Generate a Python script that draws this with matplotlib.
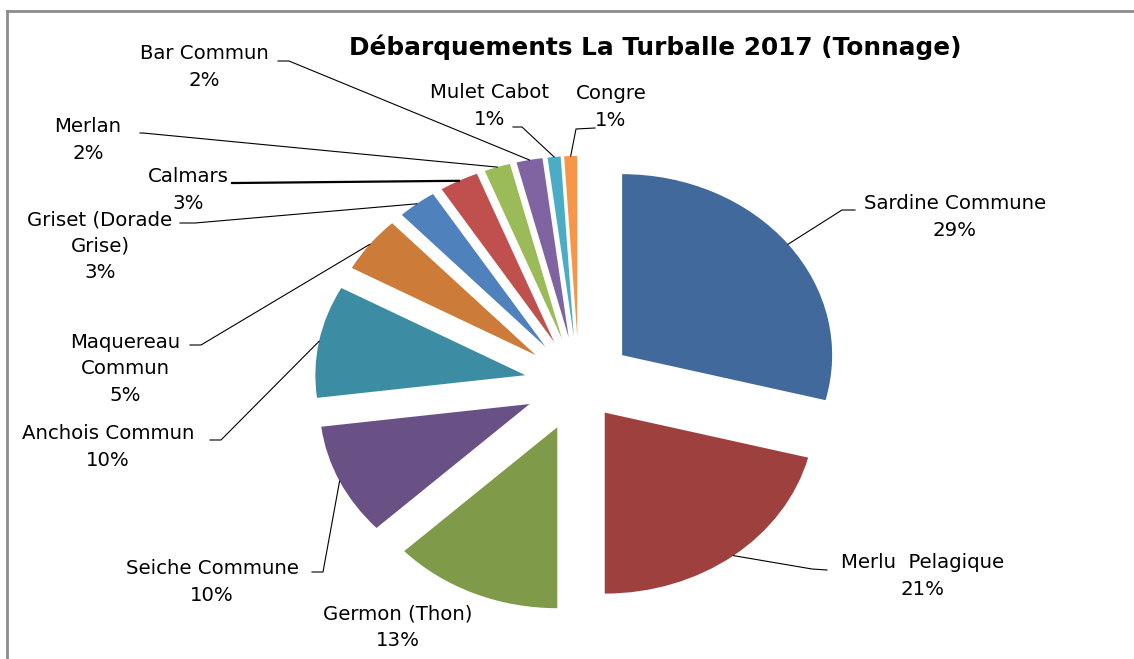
import matplotlib
matplotlib.use('Agg')
import matplotlib.pyplot as plt
import numpy as np
from matplotlib.lines import Line2D

# data (percent of landed tonnage)
species = ['Sardine Commune', 'Merlu  Pelagique', 'Germon (Thon)', 'Seiche Commune',
           'Anchois Commun', 'Maquereau\nCommun', 'Griset (Dorade\nGrise)', 'Calmars',
           'Merlan', 'Bar Commun', 'Mulet Cabot', 'Congre']
share = [29, 21, 13, 10, 10, 5, 3, 3, 2, 2, 1, 1]
colors = ['#41699B', '#9E413E', '#7F9A48', '#695185', '#3C8DA3', '#CC7B38',
          '#4F81BD', '#C0504D', '#9BBB59', '#8064A2', '#4BACC6', '#F79646']
explode = [0.26, 0.2, 0.26, 0.26, 0.26, 0.26, 0.26, 0.26, 0.26, 0.26, 0.26, 0.26]

# label layout in figure pixels (from top-left): text centre, elbow point, end of tail
label_xy = [(955, 217), (923, 576), (398, 627), (212, 582), (108, 447), (125, 369),
            (100, 246), (188, 190), (88, 140), (204, 67), (490, 106), (611, 107)]
elbow_xy = [(842, 210), (812, 569), None, (323, 572), (221, 440), (201, 345),
            (195, 223), (235, 183), (143, 133), (289, 61), (522, 127), (576, 129)]
tail_xy = [(855, 210), (827, 570), None, (312, 572), (210, 440), (190, 345),
           (180, 223), (232, 183), (140, 133), (278, 61), (513, 127), (595, 128)]

W, H = 1134, 659
cx, cy = 579, 384      # pie centre in pixels
rx, ry = 210, 181      # pixels per unit radius (chart was stretched sideways)

fig = plt.figure(figsize=(W / 100, H / 100), dpi=100)
ax = fig.add_axes([0, 0, 1, 1])

wedges, _ = ax.pie(share, colors=colors, explode=explode, startangle=90,
                   counterclock=False, radius=1.0,
                   wedgeprops=dict(linewidth=0))
ax.set_aspect('auto')
ax.set_xlim(-cx / rx, (W - cx) / rx)
ax.set_ylim(-(H - cy) / ry, cy / ry)
ax.axis('off')


def px(p):
    return (p[0] - cx) / rx, (cy - p[1]) / ry


plt.rcParams['font.family'] = 'DejaVu Sans'
for i, w in enumerate(wedges):
    txt = '%s\n%d%%' % (species[i], share[i])
    tx, ty = px(label_xy[i])
    ax.text(tx, ty, txt, ha='center', va='center', fontsize=14.2,
            linespacing=1.48, color='black')
    if elbow_xy[i] is None:
        continue
    mid = np.deg2rad((w.theta1 + w.theta2) / 2.)
    r = 1.0 + explode[i]
    sx, sy = r * np.cos(mid), r * np.sin(mid)
    ex, ey = px(elbow_xy[i])
    fx, fy = px(tail_xy[i])
    lw = 1.6 if i == 7 else 0.8
    ax.plot([sx, ex, fx], [sy, ey, fy], color='black', lw=lw)

fig.text(655 / W, 1 - 47 / H, 'Débarquements La Turballe 2017 (Tonnage)',
         ha='center', va='center', fontsize=17.8, fontweight='bold')

# outer chart frame (left and top only visible)
fig.add_artist(Line2D([7 / W, 7 / W], [0, 1 - 11 / H], color='#8c8c8c', lw=2))
fig.add_artist(Line2D([7 / W, 1], [1 - 11 / H, 1 - 11 / H], color='#8c8c8c', lw=2))

fig.savefig('out.png', dpi=100)
